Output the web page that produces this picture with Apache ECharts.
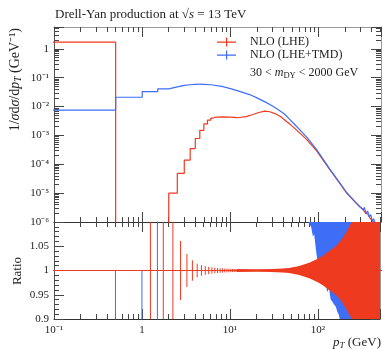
<!DOCTYPE html>
<html>
<head>
<meta charset="utf-8">
<script src="https://cdn.jsdelivr.net/npm/echarts@6/dist/echarts.min.js"></script>
<style>
html, body { margin: 0; padding: 0; background: #fff; }
#chart { width: 383px; height: 350px; }
</style>
</head>
<body>
<div id="chart"></div>
<script>
var RED = '#ee3a1f', BLUE = '#3d6ef5';
var FONT = 'Liberation Serif';

// NLO (LHE), 0.5 GeV bins at low pT: bin low edge / value
var lheEdges = [0.05, 0.5, 2.0, 2.5, 3.0, 3.5, 4.0, 4.5, 5.0, 5.5, 6.0, 6.5];
var lheHist = [1.7, 1e-9, 1.0e-5, 4.8e-5, 1.4e-4, 3.5e-4, 7.8e-4, 1.5e-3, 2.5e-3, 3.4e-3, 4.0e-3, 4.2e-3];
// NLO (LHE), read along the curve where the bins get too thin to see
var lhePt = [6.5, 8, 10, 12, 15, 18, 21, 24.5, 28, 32, 37, 41, 47, 56, 73, 95, 134, 170, 208, 250, 294, 320, 340, 360, 380, 400, 420, 440, 480];
var lheVal = [4.2e-3, 4.4e-3, 4.3e-3, 4.1e-3, 4.5e-3, 5.3e-3, 6.2e-3, 6.9e-3, 6.6e-3, 5.7e-3, 4.5e-3, 3.5e-3, 2.5e-3, 1.55e-3, 7.3e-4, 2.9e-4, 6.5e-5, 2.4e-5, 1.0e-5, 5.5e-6, 3.3e-6, 2.8e-6, 2.0e-6, 1.9e-6, 1.4e-6, 1.3e-6, 1.0e-6, 9e-7, 7e-7];

// NLO (LHE+TMD)
var tmdEdges = [0.05, 0.5, 1.0, 1.5, 2.0, 2.5, 3.0, 3.5, 4.0, 4.5];
var tmdHist = [0.0075, 0.021, 0.033, 0.041, 0.048, 0.054, 0.057, 0.059, 0.060, 0.060];
var tmdPt = [4.5, 5, 6, 8, 10, 13, 16.5, 20, 25, 30, 35, 41, 47, 55, 61, 75, 95, 134, 170, 208, 250, 294, 320, 330, 345, 360, 375, 390, 405, 420, 440, 480];
var tmdVal = [0.060, 0.059, 0.057, 0.050, 0.042, 0.033, 0.026, 0.020, 0.0142, 0.0105, 0.0078, 0.0055, 0.0036, 0.0022, 0.00158, 8.0e-4, 3.2e-4, 6.8e-5, 2.5e-5, 1.05e-5, 5.7e-6, 3.4e-6, 2.6e-6, 3.2e-6, 2.0e-6, 2.4e-6, 1.5e-6, 1.8e-6, 1.1e-6, 1.3e-6, 9e-7, 7e-7];

// ratio panel
var ratioRefPt = [0.05, 600];
var ratioRefVal = [1, 1];
var tmdRatioEdges = [0.05, 0.5, 1.0, 1.5, 2.0];
var tmdRatioHist = [0.0044, 1.0, 0.5, 50, 50];
var lheErrPt = [1.25, 1.75, 2.25, 2.75, 3.25, 3.75, 4.25, 4.75, 5.25, 5.75, 6.25, 6.75, 7.25, 7.75, 8.25, 8.75, 9.25, 9.75, 10.25, 10.75, 11.25, 11.75, 12.25];
var lheErr = [1, 1, 1, 0.061, 0.034, 0.021, 0.014, 0.011, 0.009, 0.0075, 0.0065, 0.0058, 0.0052, 0.0047, 0.0043, 0.004, 0.0038, 0.0036, 0.0034, 0.0033, 0.0032, 0.0031, 0.003];
var lheBandPt = [12, 20, 30, 40, 47, 60, 80, 100, 113, 130, 160, 185, 210, 250, 300, 400, 520];
var lheBandErr = [0.003, 0.0025, 0.003, 0.004, 0.005, 0.009, 0.016, 0.024, 0.03, 0.038, 0.05, 0.063, 0.079, 0.104, 0.14, 0.22, 0.3];
var tmdLoPt = [76, 80, 84, 88, 91, 95, 99, 104, 108, 113, 118, 123, 128, 134, 140, 146, 153, 160, 167, 174, 182, 260];
var tmdLo = [1.11, 1.095, 1.09, 1.07, 1.075, 1.045, 1.02, 1.0, 0.99, 0.985, 0.97, 0.975, 0.955, 0.964, 0.94, 0.936, 0.93, 0.926, 0.915, 0.908, 0.89, 0.89];

function pairs(xs, ys) {
    return xs.map(function (x, i) { return [x, ys[i]]; });
}

function isDecade(v) {
    var l = Math.log10(v);
    return Math.abs(l - Math.round(l)) < 1e-6;
}
var SUP = {'-': '⁻', '0': '⁰', '1': '¹', '2': '²', '3': '³', '4': '⁴', '5': '⁵', '6': '⁶'};
function logLabel(v) {
    if (!isDecade(v)) return '';
    var e = Math.round(Math.log10(v));
    if (e === 0) return '1';
    return '10' + String(e).split('').map(function (c) { return SUP[c]; }).join('');
}

function bandRender(pts, lo, hi, color) {
    return function (params, api) {
        if (params.dataIndex !== 0) return null;
        var up = [], down = [];
        for (var i = 0; i < pts.length; i++) {
            up.push(api.coord([pts[i], hi[i]]));
            down.unshift(api.coord([pts[i], lo[i]]));
        }
        return { type: 'polygon', shape: { points: up.concat(down) }, style: { fill: color } };
    };
}

var tickCol = '#444';
function xAx(grid, pos, labels) {
    return {
        type: 'log', gridIndex: grid, position: pos, min: 0.1, max: 510,
        axisLine: { show: true, lineStyle: { color: pos === 'top' && grid === 0 ? '#999' : '#333' } },
        axisTick: { show: true, inside: true, length: 10, lineStyle: { color: tickCol } },
        minorTick: { show: true, splitNumber: 9, length: 5, lineStyle: { color: tickCol } },
        axisLabel: { show: labels, formatter: logLabel, fontFamily: FONT, fontSize: 11, color: '#222', margin: 6 },
        splitLine: { show: false }, minorSplitLine: { show: false }
    };
}
function yMain(pos) {
    return {
        type: 'log', gridIndex: 0, position: pos, min: 1e-6, max: 5.7,
        axisLine: { show: true, lineStyle: { color: pos === 'right' ? '#999' : '#555' } },
        axisTick: { show: true, inside: true, length: 10, lineStyle: { color: tickCol } },
        minorTick: { show: true, splitNumber: 9, length: 5, lineStyle: { color: tickCol } },
        axisLabel: { show: pos === 'left', formatter: logLabel, fontFamily: FONT, fontSize: 11, color: '#222', margin: 5 },
        splitLine: { show: false }
    };
}
function yRatio(pos) {
    return {
        type: 'value', gridIndex: 1, position: pos, min: 0.9, max: 1.1, interval: 0.05,
        axisLine: { show: true, lineStyle: { color: pos === 'right' ? '#999' : '#555' } },
        axisTick: { show: true, inside: true, length: 10, lineStyle: { color: tickCol } },
        minorTick: { show: true, splitNumber: 5, length: 5, lineStyle: { color: tickCol } },
        axisLabel: {
            show: pos === 'left', fontFamily: FONT, fontSize: 11, color: '#222', margin: 5,
            formatter: function (v) {
                var labs = { '0.9': '0.9', '0.95': '0.95', '1': '1', '1.05': '1.05' };
                return labs[String(+v.toFixed(3))] || '';
            }
        },
        splitLine: { show: false }
    };
}

var rich13 = {
    a: { fontFamily: FONT, fontSize: 13, fill: '#222', lineHeight: 15 },
    i: { fontFamily: FONT, fontSize: 13, fontStyle: 'italic', fill: '#222', lineHeight: 15 },
    s: { fontFamily: FONT, fontSize: 9, fontStyle: 'italic', fill: '#222', lineHeight: 8, verticalAlign: 'bottom' }
};

var chart = echarts.init(document.getElementById('chart'));
var option = {
    animation: false,
    backgroundColor: '#fff',
    grid: [
        { left: 54, top: 27, width: 327, height: 195 },
        { left: 54, top: 222, width: 327, height: 97 }
    ],
    xAxis: [xAx(0, 'bottom', false), xAx(0, 'top', false), xAx(1, 'bottom', true), xAx(1, 'top', false)],
    yAxis: [yMain('left'), yMain('right'), yRatio('left'), yRatio('right')],
    legend: {
        data: ['NLO (LHE)', 'NLO (LHE+TMD)'],
        orient: 'vertical', left: 212, top: 31,
        itemWidth: 19, itemHeight: 9, itemGap: 1, selectedMode: false,
        icon: 'path://M0,4h19v1.2h-19z M9,0h1.2v9h-1.2z',
        textStyle: { fontFamily: FONT, fontSize: 12, color: '#222', padding: [0, 0, 0, 9] }
    },
    graphic: [
        {
            type: 'text', x: 55, y: 15,
            style: {
                text: '{a|Drell-Yan production at √}{i|s}{a| = 13 TeV}', verticalAlign: 'middle',
                rich: rich13
            }
        },
        {
            type: 'text', x: 250, y: 73,
            style: {
                text: '{a|30 < }{i|m}{s|DY}{a| < 2000 GeV}', verticalAlign: 'middle',
                rich: {
                    a: { fontFamily: FONT, fontSize: 12, fill: '#222', lineHeight: 14 },
                    i: { fontFamily: FONT, fontSize: 12, fontStyle: 'italic', fill: '#222', lineHeight: 14 },
                    s: { fontFamily: FONT, fontSize: 8.5, fill: '#222', lineHeight: 8, verticalAlign: 'bottom' }
                }
            }
        },
        {
            type: 'text', x: 15, y: 28, rotation: Math.PI / 2,
            style: {
                text: '{a|1/}{i|σ}{a|d}{i|σ}{a|/d}{i|p}{s|T}{a| (GeV⁻¹)}', align: 'right', verticalAlign: 'middle',
                rich: {
                    a: { fontFamily: FONT, fontSize: 14, fill: '#222', lineHeight: 16 },
                    i: { fontFamily: FONT, fontSize: 14, fontStyle: 'italic', fill: '#222', lineHeight: 16 },
                    s: { fontFamily: FONT, fontSize: 9.5, fontStyle: 'italic', fill: '#222', lineHeight: 9, verticalAlign: 'bottom' }
                }
            }
        },
        {
            type: 'text', x: 18, y: 271, rotation: Math.PI / 2,
            style: { text: 'Ratio', align: 'center', verticalAlign: 'middle', fontFamily: FONT, fontSize: 13, fill: '#222' }
        },
        {
            type: 'text', x: 381, y: 343,
            style: { text: '{i|p}{s|T}{a| (GeV)}', align: 'right', verticalAlign: 'middle', rich: rich13 }
        }
    ],
    series: [
        {
            name: 'NLO (LHE)', type: 'line', xAxisIndex: 0, yAxisIndex: 0, color: RED,
            step: 'end', showSymbol: false, lineStyle: { width: 1.2 }, data: pairs(lheEdges, lheHist)
        },
        {
            name: 'NLO (LHE)', type: 'line', xAxisIndex: 0, yAxisIndex: 0, color: RED,
            showSymbol: false, lineStyle: { width: 1.2 }, data: pairs(lhePt, lheVal)
        },
        {
            name: 'NLO (LHE+TMD)', type: 'line', xAxisIndex: 0, yAxisIndex: 0, color: BLUE,
            step: 'end', showSymbol: false, lineStyle: { width: 1.2 }, data: pairs(tmdEdges, tmdHist)
        },
        {
            name: 'NLO (LHE+TMD)', type: 'line', xAxisIndex: 0, yAxisIndex: 0, color: BLUE,
            showSymbol: false, lineStyle: { width: 1.2 }, data: pairs(tmdPt, tmdVal)
        },
        // ratio panel
        {
            name: 'NLO (LHE+TMD)', type: 'custom', xAxisIndex: 2, yAxisIndex: 2, color: BLUE, clip: true,
            data: pairs(tmdLoPt, tmdLo),
            renderItem: bandRender(tmdLoPt, tmdLo, tmdLo.map(function () { return 1.2; }), BLUE)
        },
        {
            name: 'NLO (LHE+TMD)', type: 'line', xAxisIndex: 2, yAxisIndex: 2, color: BLUE,
            step: 'end', showSymbol: false, lineStyle: { width: 1 }, data: pairs(tmdRatioEdges, tmdRatioHist)
        },
        {
            name: 'NLO (LHE)', type: 'custom', xAxisIndex: 2, yAxisIndex: 2, color: RED, clip: true,
            data: pairs(lheBandPt, lheBandErr),
            renderItem: bandRender(lheBandPt,
                lheBandErr.map(function (e) { return 1 - e; }),
                lheBandErr.map(function (e) { return 1 + e; }), RED)
        },
        {
            name: 'NLO (LHE)', type: 'custom', xAxisIndex: 2, yAxisIndex: 2, color: RED, clip: true,
            data: pairs(lheErrPt, lheErr),
            renderItem: function (params, api) {
                var x = api.value(0), e = api.value(1);
                var a = api.coord([x, 1 + e]), b = api.coord([x, 1 - e]);
                return { type: 'line', shape: { x1: a[0], y1: a[1], x2: b[0], y2: b[1] }, style: { stroke: RED, lineWidth: 1 } };
            }
        },
        {
            name: 'NLO (LHE)', type: 'line', xAxisIndex: 2, yAxisIndex: 2, color: RED,
            showSymbol: false, lineStyle: { width: 1.2 }, data: pairs(ratioRefPt, ratioRefVal)
        }
    ]
};
chart.setOption(option);
</script>
</body>
</html>
